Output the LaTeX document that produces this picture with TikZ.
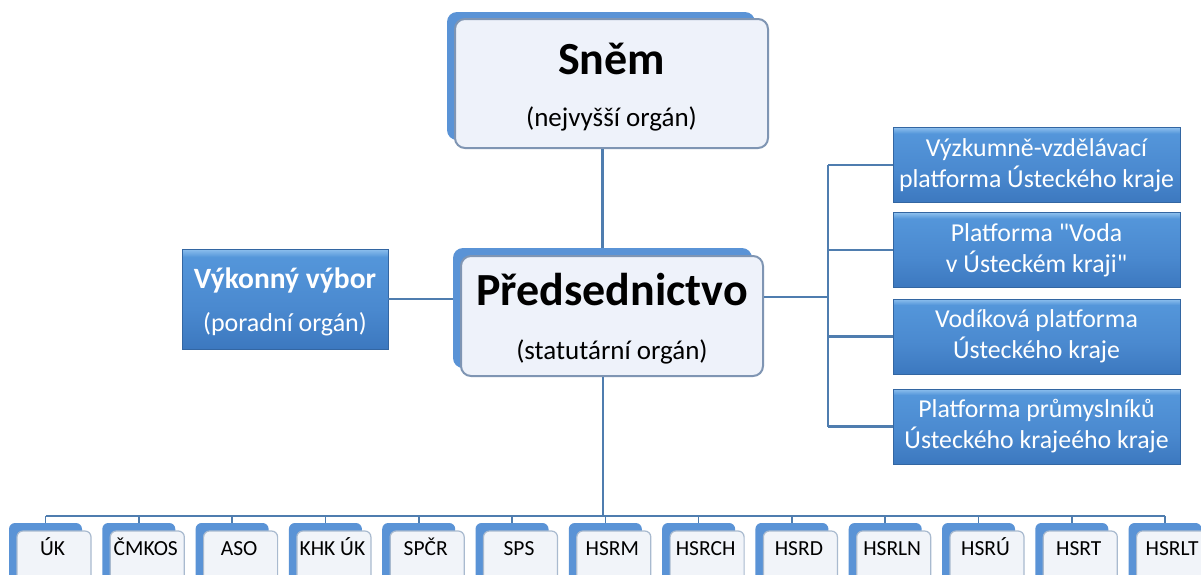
\documentclass[tikz,border=0pt]{standalone}
\usepackage{fontspec}
\setmainfont{Carlito}[Ligatures=TeXOff]
\definecolor{tabblue}{HTML}{5A93D6}
\definecolor{cardfill}{HTML}{EEF2FA}
\definecolor{cardline}{HTML}{7F95B3}
\definecolor{smallline}{HTML}{A9BACF}
\definecolor{smallfill}{HTML}{F1F4F9}
\definecolor{linkc}{HTML}{4F7DAF}
\definecolor{bluetop}{HTML}{8EC0EE}
\definecolor{bluemidb}{HTML}{5496DA}
\definecolor{bluemida}{HTML}{4A89CF}
\definecolor{bluebot}{HTML}{3C78BF}
\pgfdeclareverticalshading{blueface}{100bp}{color(0bp)=(bluebot); color(25bp)=(bluebot); color(45bp)=(bluemida); color(71bp)=(bluemidb); color(75bp)=(bluetop); color(100bp)=(bluetop)}
\tikzset{
  tabbox/.style={fill=tabblue, draw=none, rounded corners=10pt, inner sep=0pt},
  cardbox/.style={fill=cardfill, draw=cardline, line width=2pt, rounded corners=10pt, inner sep=0pt},
  smalltab/.style={fill=tabblue, draw=none, rounded corners=6pt, inner sep=0pt, minimum width=73pt, minimum height=70pt},
  smallcard/.style={fill=smallfill, draw=smallline, line width=1.2pt, rounded corners=6pt, inner sep=0pt, minimum width=74pt, minimum height=70pt},
  bluebox/.style={shading=blueface, draw=bluebot!85!black, line width=0.8pt, inner sep=0pt, text=white, align=center},
  bigtitle/.style={anchor=base, font=\fontsize{46}{50}\selectfont\bfseries, inner sep=0pt},
  subtitle/.style={anchor=base, font=\fontsize{27}{30}\selectfont, inner sep=0pt},
  smalllbl/.style={anchor=base, font=\fontsize{21.5}{24}\selectfont, inner sep=0pt},
  link/.style={draw=linkc, line width=2.5pt},
  tick/.style={draw=linkc, line width=1.6pt}
}
\begin{document}
\begin{tikzpicture}[x=1pt,y=-1pt]
\useasboundingbox (0,0) rectangle (1201,574);
\fill[white] (0,0) rectangle (1201,574);
\clip (0,0) rectangle (1201,574);

% Snem
\node[tabbox, minimum width=308pt, minimum height=128pt] (snemtab) at (601,76) {};
\node[cardbox, minimum width=313pt, minimum height=129pt] (snem) at (611.5,83.5) {};
\node[bigtitle] (snemT) at (611.5,74) {Sněm};
\node[subtitle] (snemS) at (611.5,126) {(nejvyšší orgán)};

% Predsednictvo
\node[tabbox, minimum width=299pt, minimum height=120pt] (predtab) at (602.5,308) {};
\node[cardbox, minimum width=302pt, minimum height=120pt] (pred) at (612,316) {};
\node[bigtitle] (predT) at (612,305) {Předsednictvo};
\node[subtitle] (predS) at (612,359) {(statutární orgán)};

% Vykonny vybor
\node[bluebox, minimum width=206pt, minimum height=100pt] (vv) at (285,299) {};
\node[anchor=base, text=white, font=\fontsize{29.5}{32}\selectfont\bfseries, inner sep=0pt] (vvT) at (285,288) {Výkonný výbor};
\node[anchor=base, text=white, font=\fontsize{26}{30}\selectfont, inner sep=0pt] (vvS) at (285,331) {(poradní orgán)};

% right platforms
\begin{scope}[every node/.style={bluebox, minimum width=287pt, minimum height=75pt, font=\fontsize{25.8}{31}\selectfont}]
\node (r1) at (1036.5,165) {Výzkumně-vzdělávací\\platforma Ústeckého kraje};
\node (r2) at (1036.5,250) {Platforma "Voda\\v Ústeckém kraji"};
\node (r3) at (1036.5,336.5) {Vodíková platforma\\Ústeckého kraje};
\node (r4) at (1036.5,426.5) {Platforma průmyslníků\\Ústeckého krajeého kraje};
\end{scope}

% connectors
\draw[link] (snem.south -| predtab.north) -- (predtab.north);
\draw[link] (vv.east) -- (predtab.west |- vv.east);
\coordinate (rj) at (828,297);
\draw[link] (rj -| pred.east) -- (rj);
\draw[link] (rj |- r1.west) -- (rj |- r4.west);
\foreach \r in {r1,r2,r3,r4} \draw[link] (rj |- \r.west) -- (\r.west);

\coordinate (bj) at (603,516);
\draw[link] (bj |- pred.south) -- (bj);

% bottom row
\foreach \t [count=\i from 0] in {ÚK,ČMKOS,ASO,KHK ÚK,SPČR,SPS,HSRM,HSRCH,HSRD,HSRLN,HSRÚ,HSRT,HSRLT} {
  \pgfmathsetmacro\xb{45.5+93.3*\i}
  \node[smalltab] (t\i) at (\xb,558) {};
  \node[smallcard] (c\i) at (\xb+8.5,566) {};
  \node[smalllbl] (l\i) at (\xb+7,555) {\t};
  \draw[tick] (t\i.north |- bj) -- (t\i.north);
}
\draw[draw=linkc, line width=2pt] (t0.north |- bj) -- (t12.north |- bj);
\end{tikzpicture}
\end{document}
